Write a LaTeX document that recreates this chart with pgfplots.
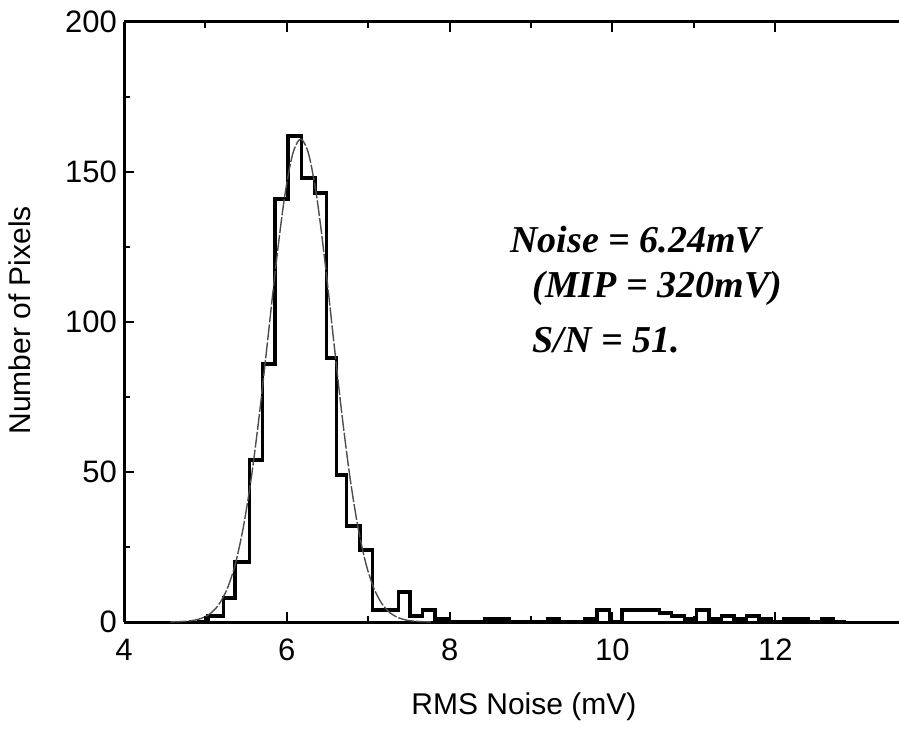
\documentclass[border=0pt]{standalone}
\usepackage{fontspec}
\setmainfont{Liberation Sans}
\newfontfamily\hand{Liberation Serif}
\usepackage{pgfplots}
\pgfplotsset{compat=1.18}
\begin{document}
\begin{tikzpicture}
\useasboundingbox (0,0) rectangle (449.5pt,370pt);
\begin{axis}[
  at={(62pt,59pt)}, anchor=south west,
  scale only axis, width=387.5pt, height=300pt,
  xmin=4, xmax=13.52, ymin=0, ymax=200,
  axis x line*=box, axis y line*=left,
  xtick pos=both, ytick pos=left,
  xtick={4,6,8,10,12}, ytick={0,50,100,150,200},
  minor x tick num=1, minor y tick num=1,
  tick align=inside,
  major tick length=5pt, minor tick length=3pt,
  every tick/.style={black, line width=1pt},
  axis line style={line width=1.5pt},
  ticklabel style={font=\fontsize{15.5}{18}\selectfont},
  xticklabel style={yshift=-5pt},
  /pgf/number format/assume math mode=true,
  xlabel={RMS Noise (mV)}, ylabel={Number of Pixels},
  label style={font=\fontsize{15}{18}\selectfont},
  xlabel style={at={(axis description cs:0.516,-0.141)}, anchor=center},
  ylabel style={at={(axis description cs:-0.134,0.503)}, anchor=center},
  clip=false,
]
% histogram (left bin edges, counts)
\addplot[const plot mark left, line width=1.6pt, black] coordinates {
(4.90,0) (5.032,2) (5.220,8) (5.364,20) (5.539,54) (5.704,86) (5.855,141)
(6.015,162) (6.183,148) (6.346,143) (6.490,88) (6.613,49) (6.736,32)
(6.899,24) (7.055,4) (7.206,4) (7.370,10) (7.514,2) (7.668,4) (7.821,1)
(7.974,0) (8.127,0) (8.280,0) (8.433,1) (8.586,1) (8.739,0) (8.892,0)
(9.045,0) (9.198,1) (9.351,0) (9.504,0) (9.657,1) (9.810,4) (9.963,0)
(10.116,4) (10.269,4) (10.422,4) (10.575,3) (10.728,2) (10.881,1)
(11.034,4) (11.187,1) (11.340,2) (11.493,1) (11.646,2) (11.799,1)
(11.952,0) (12.105,1) (12.258,1) (12.411,0) (12.564,1) (12.717,0) (12.870,0)
};
% fitted gaussian
\addplot[smooth, line width=0.7pt, black!70, dash pattern=on 8pt off 1pt] coordinates {
(4.57,0.04) (4.67,0.10) (4.77,0.26) (4.87,0.62) (4.97,1.42) (5.07,3.02)
(5.17,6.02) (5.27,11.2) (5.37,19.6) (5.47,32.2) (5.57,49.3) (5.67,70.8)
(5.77,95.2) (5.87,119.8) (5.97,141.2) (6.07,155.8) (6.17,161) (6.27,155.8)
(6.37,141.2) (6.47,119.8) (6.57,95.2) (6.67,70.8) (6.77,49.3) (6.87,32.2)
(6.97,19.6) (7.07,11.2) (7.17,6.02) (7.27,3.02) (7.37,1.42) (7.47,0.62)
(7.57,0.26) (7.67,0.10) (7.77,0.04)
};
\node[anchor=west, font=\hand\bfseries\itshape\fontsize{19}{22}\selectfont] at (axis cs:8.66,127.3) {Noise = 6.24mV};
\node[anchor=west, font=\hand\bfseries\itshape\fontsize{19}{22}\selectfont] at (axis cs:8.93,111.3) {(MIP = 320mV)};
\node[anchor=west, font=\hand\bfseries\itshape\fontsize{19}{22}\selectfont] at (axis cs:8.93,94) {S/N = 51.};
\end{axis}
\end{tikzpicture}
\end{document}
